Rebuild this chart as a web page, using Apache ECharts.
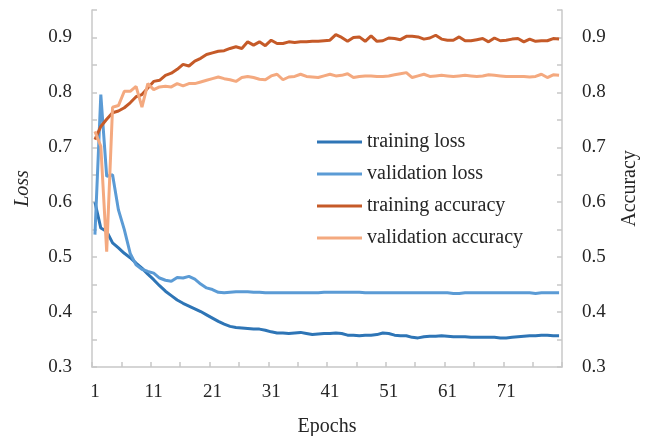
<!DOCTYPE html>
<html>
<head>
<meta charset="utf-8">
<script src="https://cdn.jsdelivr.net/npm/echarts@6/dist/echarts.min.js"></script>
<style>
  html, body { margin: 0; padding: 0; background: #fff; }
  #chart { width: 656px; height: 436px; }
</style>
</head>
<body>
<div id="chart"></div>
<script>
// Epoch numbers 1..80
const epochs = [
  1,2,3,4,5,6,7,8,9,10,11,12,13,14,15,16,17,18,19,20,
  21,22,23,24,25,26,27,28,29,30,31,32,33,34,35,36,37,38,39,40,
  41,42,43,44,45,46,47,48,49,50,51,52,53,54,55,56,57,58,59,60,
  61,62,63,64,65,66,67,68,69,70,71,72,73,74,75,76,77,78,79,80
].map(String);

const trainingLoss = [
  0.600,0.553,0.547,0.526,0.517,0.507,0.499,0.489,0.480,0.469,
  0.459,0.448,0.438,0.430,0.422,0.416,0.411,0.406,0.401,0.395,
  0.389,0.383,0.378,0.374,0.372,0.371,0.370,0.369,0.369,0.367,
  0.364,0.362,0.362,0.361,0.362,0.363,0.361,0.359,0.360,0.361,
  0.361,0.362,0.361,0.358,0.358,0.357,0.358,0.358,0.359,0.362,
  0.361,0.358,0.357,0.357,0.354,0.353,0.355,0.356,0.356,0.357,
  0.356,0.355,0.355,0.355,0.354,0.354,0.354,0.354,0.354,0.353,
  0.353,0.354,0.355,0.356,0.357,0.357,0.358,0.358,0.357,0.357
];

const validationLoss = [
  0.541,0.796,0.647,0.650,0.586,0.550,0.507,0.486,0.478,0.474,
  0.471,0.462,0.458,0.456,0.463,0.462,0.465,0.460,0.451,0.444,
  0.441,0.436,0.435,0.436,0.437,0.437,0.437,0.436,0.436,0.435,
  0.435,0.435,0.435,0.435,0.435,0.435,0.435,0.435,0.435,0.436,
  0.436,0.436,0.436,0.436,0.436,0.436,0.435,0.435,0.435,0.435,
  0.435,0.435,0.435,0.435,0.435,0.435,0.435,0.435,0.435,0.435,
  0.435,0.434,0.434,0.435,0.435,0.435,0.435,0.435,0.435,0.435,
  0.435,0.435,0.435,0.435,0.435,0.434,0.435,0.435,0.435,0.435
];

const trainingAccuracy = [
  0.714,0.738,0.751,0.763,0.766,0.772,0.781,0.792,0.796,0.808,
  0.820,0.822,0.831,0.835,0.842,0.851,0.848,0.857,0.862,0.869,
  0.872,0.875,0.876,0.880,0.883,0.880,0.892,0.886,0.892,0.885,
  0.895,0.889,0.889,0.892,0.891,0.892,0.892,0.893,0.893,0.894,
  0.895,0.905,0.900,0.893,0.900,0.901,0.893,0.903,0.893,0.894,
  0.899,0.898,0.896,0.902,0.902,0.901,0.897,0.899,0.904,0.897,
  0.895,0.895,0.901,0.894,0.894,0.896,0.898,0.892,0.899,0.894,
  0.895,0.897,0.898,0.892,0.897,0.893,0.894,0.894,0.898,0.897
];

const validationAccuracy = [
  0.729,0.702,0.510,0.773,0.776,0.802,0.802,0.811,0.773,0.816,
  0.805,0.810,0.811,0.810,0.816,0.812,0.816,0.816,0.819,0.822,
  0.825,0.828,0.825,0.823,0.820,0.827,0.829,0.827,0.824,0.823,
  0.830,0.833,0.823,0.828,0.829,0.833,0.829,0.828,0.827,0.830,
  0.833,0.830,0.831,0.834,0.827,0.829,0.830,0.830,0.829,0.829,
  0.830,0.832,0.834,0.836,0.827,0.830,0.833,0.829,0.830,0.831,
  0.830,0.829,0.830,0.831,0.830,0.829,0.830,0.832,0.831,0.830,
  0.829,0.829,0.829,0.829,0.828,0.829,0.833,0.827,0.832,0.831
];

const seriesNames = ['training loss', 'validation loss', 'training accuracy', 'validation accuracy'];
const seriesColors = ['#2e75b6', '#5b9bd5', '#c55a28', '#f4a97f'];

const FONT = '"Liberation Serif", "Times New Roman", serif';
const AXIS_GRAY = '#c8c8c8';
const TEXT = '#262626';

function valueAxis(name, position, italic) {
  return {
    type: 'value',
    position: position,
    min: 0.3,
    max: 0.95,
    interval: 0.05,
    name: name,
    nameLocation: 'middle',
    nameRotate: 90,
    nameGap: position === 'left' ? 59 : 58,
    nameTextStyle: { fontFamily: FONT, fontSize: 20, color: TEXT, fontStyle: italic ? 'italic' : 'normal' },
    axisLine: { show: true, lineStyle: { color: AXIS_GRAY, width: 1.5 } },
    axisTick: { show: true, inside: true, length: 5, lineStyle: { color: AXIS_GRAY, width: 1.5 } },
    splitLine: { show: false },
    axisLabel: {
      margin: 20,
      fontFamily: FONT, fontSize: 19, color: TEXT,
      formatter: v => (Math.round(v * 100) % 10 === 0 ? v.toFixed(1) : '')
    }
  };
}

const chart = echarts.init(document.getElementById('chart'), null, { renderer: 'canvas' });

chart.setOption({
  animation: false,
  backgroundColor: '#fff',
  grid: { left: 92, right: 94, top: 10, bottom: 69, containLabel: false, outerBoundsMode: 'none' },
  legend: {
    orient: 'vertical',
    left: 312,
    top: 127,
    icon: 'rect',
    itemWidth: 45,
    itemHeight: 3,
    itemGap: 12,
    textStyle: { fontFamily: FONT, fontSize: 20, color: TEXT },
    data: seriesNames
  },
  xAxis: {
    type: 'category',
    data: epochs,
    boundaryGap: true,
    name: 'Epochs',
    nameLocation: 'middle',
    nameGap: 50,
    nameTextStyle: { fontFamily: FONT, fontSize: 20, color: TEXT },
    axisLine: { lineStyle: { color: AXIS_GRAY, width: 1.5 } },
    axisTick: { show: true, inside: true, length: 5, interval: 4, lineStyle: { color: AXIS_GRAY, width: 1.5 } },
    axisLabel: { interval: 9, margin: 16, fontFamily: FONT, fontSize: 19, color: TEXT },
    splitLine: { show: false }
  },
  yAxis: [valueAxis('Loss', 'left', true), valueAxis('Accuracy', 'right', false)],
  series: [
    { data: trainingLoss, yAxisIndex: 0 },
    { data: validationLoss, yAxisIndex: 0 },
    { data: trainingAccuracy, yAxisIndex: 1 },
    { data: validationAccuracy, yAxisIndex: 1 }
  ].map((s, i) => ({
    name: seriesNames[i],
    type: 'line',
    data: s.data,
    yAxisIndex: s.yAxisIndex,
    symbol: 'none',
    smooth: false,
    lineStyle: { color: seriesColors[i], width: 3 },
    itemStyle: { color: seriesColors[i] }
  }))
});
</script>
</body>
</html>
